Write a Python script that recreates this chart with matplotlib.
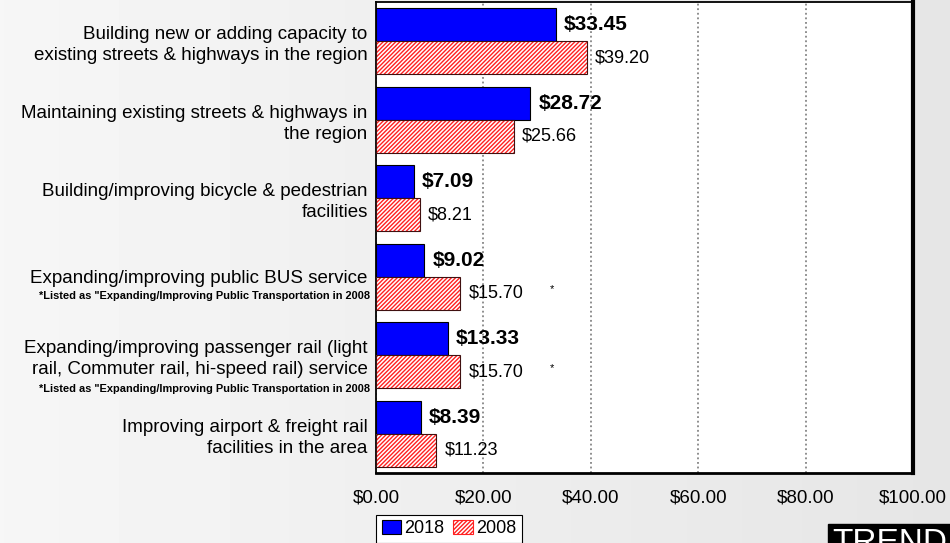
import numpy as np
import matplotlib.pyplot as plt
from matplotlib.patches import Patch

plt.rcParams['font.family'] = ['Liberation Sans', 'DejaVu Sans']
plt.rcParams['hatch.linewidth'] = 1.0

categories = [
    "Building new or adding capacity to\nexisting streets & highways in the region",
    "Maintaining existing streets & highways in\nthe region",
    "Building/improving bicycle & pedestrian\nfacilities",
    "Expanding/improving public BUS service",
    "Expanding/improving passenger rail (light\nrail, Commuter rail, hi-speed rail) service",
    "Improving airport & freight rail\nfacilities in the area",
]
vals_2018 = [33.45, 28.72, 7.09, 9.02, 13.33, 8.39]
vals_2008 = [39.20, 25.66, 8.21, 15.70, 15.70, 11.23]
footnote = '*Listed as "Expanding/Improving Public Transportation in 2008'
footnote_rows = [3, 4]
xticks = [0, 20, 40, 60, 80, 100]

fig = plt.figure(figsize=(9.5, 5.43), dpi=100)

# gray gradient background
bg = fig.add_axes([0, 0, 1, 1], zorder=-10)
grad = np.linspace(0.965, 0.90, 256).reshape(1, -1)
bg.imshow(grad, aspect='auto', cmap='gray', vmin=0, vmax=1, extent=[0, 1, 0, 1])
bg.axis('off')

ax = fig.add_axes([0.3958, 0.129, 0.5653, 0.8673])
ax.set_facecolor('white')

y = np.arange(len(categories))
h = 0.42
ax.barh(y - h / 2, vals_2018, height=h, color='#0000ff', edgecolor='black', linewidth=0.8, zorder=3)
ax.barh(y + h / 2, vals_2008, height=h, color='white', edgecolor='#ff2020', hatch='////////',
        linewidth=0, zorder=3)
ax.barh(y + h / 2, vals_2008, height=h, fill=False, edgecolor='#401010', linewidth=0.8, zorder=4)

for i in range(len(categories)):
    ax.text(vals_2018[i] + 1.5, y[i] - h / 2, "$%.2f" % vals_2018[i], va='center', ha='left',
            fontsize=15, fontweight='bold', zorder=5)
    ax.text(vals_2008[i] + 1.5, y[i] + h / 2, "$%.2f" % vals_2008[i], va='center', ha='left',
            fontsize=13, zorder=5)

for r in footnote_rows:
    ax.text(32.8, y[r] + h / 2 - 0.05, "*", fontsize=8, ha='center', va='center')

ax.set_xlim(0, 100)
ax.set_ylim(len(categories) - 0.5, -0.5)
ax.set_xticks(xticks)
ax.set_xticklabels(["$%.2f" % t for t in xticks], fontsize=13.5)
ax.set_yticks(y)
ax.set_yticklabels(categories, fontsize=13.5, ha='right', multialignment='right', linespacing=1.3)
ax.tick_params(axis='both', length=0)
ax.tick_params(axis='x', pad=12)
ax.tick_params(axis='y', pad=6)

ax.xaxis.grid(True, linestyle=(0, (1.2, 1.8)), color='#707070', linewidth=1.1, zorder=1)
ax.set_axisbelow(True)

for r in footnote_rows:
    offs = 0.24 if '\n' not in categories[r] else 0.43
    ax.text(-0.011, y[r] + offs, footnote, transform=ax.get_yaxis_transform(),
            ha='right', va='center', fontsize=7.9, fontweight='bold')

ax.spines['left'].set_linewidth(1.3)
ax.spines['top'].set_linewidth(1.3)
ax.spines['bottom'].set_linewidth(2)
ax.spines['right'].set_linewidth(3)

handles = [Patch(facecolor='#0000ff', edgecolor='black', linewidth=0.8, label='2018'),
           Patch(facecolor='white', edgecolor='#ff2020', hatch='////////', linewidth=0.8, label='2008')]
leg = fig.legend(handles=handles, loc='upper left', bbox_to_anchor=(0.396, 0.052), ncol=2,
                 fontsize=13, frameon=True, fancybox=False, edgecolor='black', framealpha=1,
                 handlelength=1.1, handleheight=0.8, handletextpad=0.15, columnspacing=0.5,
                 borderpad=0.3, borderaxespad=0)
leg.get_frame().set_linewidth(0.8)

fig.text(0.876, -0.03, "TREND", fontsize=24, color='white', ha='left', va='bottom',
         bbox=dict(facecolor='black', edgecolor='black', boxstyle='square,pad=0.12'))

fig.savefig('out.png', dpi=100)
